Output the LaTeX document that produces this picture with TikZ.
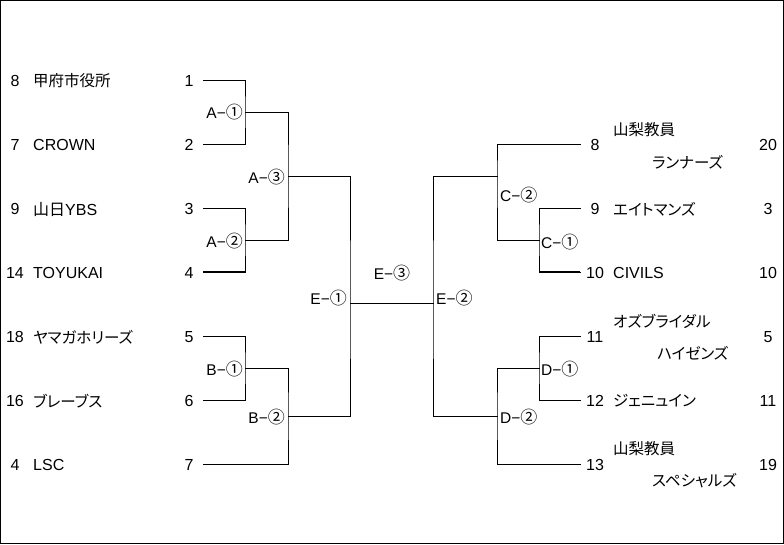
\documentclass[tikz,border=0pt]{standalone}
\usepackage{fontspec}
\setmainfont{Liberation Sans}
\newfontfamily\jp[RawFeature=+palt]{Noto Sans CJK JP}
\newfontfamily\jpc{Noto Sans CJK JP}
\newcommand\mlab[2]{#1−{\jpc\fontsize{17}{18}\selectfont #2}}
\begin{document}
\begin{tikzpicture}[x=1pt,y=-1pt,
  every node/.style={inner sep=0pt, font=\fontsize{16}{18}\selectfont},
  ln/.style={line width=1pt, line cap=rect},
  thk/.style={line width=2pt},
  jt/.style={font=\fontsize{15.5}{18}\selectfont\jp},
  lab/.style={font=\fontsize{15.5}{18}\selectfont}]
\useasboundingbox (0,0) rectangle (784,544);
\draw[line width=1.3pt] (0.65,0.65) rectangle (783.35,543.35);

% left seeds
\node (s1) at (15,81) {8};
\node (s2) at (15,145) {7};
\node (s3) at (15,209) {9};
\node (s4) at (15,273) {14};
\node (s5) at (15,337) {18};
\node (s6) at (15,401) {16};
\node (s7) at (15,465) {4};
% left names
\node[jt, anchor=west] (t1) at (33,81) {甲府市役所};
\node[anchor=west] (t2) at (33,145) {CROWN};
\node[anchor=west] (t3) at (33,209) {{\jp 山日}YBS};
\node[anchor=west] (t4) at (33,273) {TOYUKAI};
\node[jt, anchor=west] (t5) at (33,337) {ヤマガホリーズ};
\node[jt, anchor=west] (t6) at (33,401) {ブレーブス};
\node[anchor=west] (t7) at (33,465) {LSC};
% left draw numbers
\node (n1) at (189,81) {1};
\node (n2) at (189,145) {2};
\node (n3) at (189,209) {3};
\node (n4) at (189,273) {4};
\node (n5) at (189,337) {5};
\node (n6) at (189,401) {6};
\node (n7) at (189,465) {7};

% coordinates
\coordinate (a1) at (203,80);
\coordinate (a2) at (203,144);
\coordinate (a3) at (203,208);
\coordinate (a4) at (203,272);
\coordinate (a5) at (203,336);
\coordinate (a6) at (203,400);
\coordinate (a7) at (203,464);
\coordinate (j1) at (245,112);
\coordinate (j2) at (245,240);
\coordinate (j3) at (288,176);
\coordinate (j4) at (245,368);
\coordinate (j5) at (288,416);
\coordinate (j6) at (350,303);
\coordinate (k6) at (433,303);
\coordinate (k3) at (497,176);
\coordinate (k5) at (497,416);
\coordinate (k1) at (539,240);
\coordinate (k4) at (539,368);
\coordinate (b8) at (580,144);
\coordinate (b9) at (580,208);
\coordinate (b10) at (580,272);
\coordinate (b11) at (580,336);
\coordinate (b12) at (580,400);
\coordinate (b13) at (580,464);

% left bracket
\draw[ln] (a1) -| (j1) |- (a2);
\draw[ln] (a3) -| (j2) |- (a4);
\draw[thk] (a4) -- (a4 -| j2);
\draw[ln] (j1) -| (j3) |- (j2);
\draw[ln] (a5) -| (j4) |- (a6);
\draw[ln] (j4) -| (j5) |- (a7);
\draw[ln] (j3) -| (j6) |- (j5);
\draw[ln] (j6) -- (k6);
% right bracket
\draw[ln] (k3) -| (k6) |- (k5);
\draw[ln] (b8) -| (k3) |- (k1);
\draw[ln] (b9) -| (k1) |- (b10);
\draw[thk] (b10) -- (b10 -| k1);
\draw[ln] (k4) -| (k5) |- (b13);
\draw[ln] (b11) -| (k4) |- (b12);

% match labels
\node[lab, anchor=east] (mA1) at (243,112) {\mlab{A}{①}};
\node[lab, anchor=east] (mA2) at (243,241) {\mlab{A}{②}};
\node[lab, anchor=east] (mA3) at (285,177) {\mlab{A}{③}};
\node[lab, anchor=east] (mB1) at (243,369) {\mlab{B}{①}};
\node[lab, anchor=east] (mB2) at (285,417) {\mlab{B}{②}};
\node[lab, anchor=east] (mE1) at (347,298) {\mlab{E}{①}};
\node[lab] (mE3) at (392,273) {\mlab{E}{③}};
\node[lab, anchor=west] (mE2) at (436,298) {\mlab{E}{②}};
\node[lab, anchor=west] (mC2) at (500,195) {\mlab{C}{②}};
\node[lab, anchor=west] (mC1) at (541,242) {\mlab{C}{①}};
\node[lab, anchor=west] (mD1) at (541,369) {\mlab{D}{①}};
\node[lab, anchor=west] (mD2) at (500,417) {\mlab{D}{②}};

% right draw numbers
\node (n8) at (595,145) {8};
\node (n9) at (595,209) {9};
\node (n10) at (595,273) {10};
\node (n11) at (595,337) {11};
\node (n12) at (595,401) {12};
\node (n13) at (595,465) {13};
% right names
\node[jt, anchor=west] (u8a) at (613,130) {山梨教員};
\node[jt, anchor=west] (u8b) at (652,162) {ランナーズ};
\node[jt, anchor=west] (u9) at (613,209) {エイトマンズ};
\node[anchor=west] (u10) at (613,273) {CIVILS};
\node[jt, anchor=west] (u11a) at (613,321) {オズブライダル};
\node[jt, anchor=west] (u11b) at (657,353) {ハイゼンズ};
\node[jt, anchor=west] (u12) at (613,401) {ジェニュイン};
\node[jt, anchor=west] (u13a) at (613,449) {山梨教員};
\node[jt, anchor=west] (u13b) at (652,481) {スペシャルズ};
% right seeds
\node (r8) at (768,145) {20};
\node (r9) at (768,209) {3};
\node (r10) at (768,273) {10};
\node (r11) at (768,337) {5};
\node (r12) at (768,401) {11};
\node (r13) at (768,465) {19};
\end{tikzpicture}
\end{document}
